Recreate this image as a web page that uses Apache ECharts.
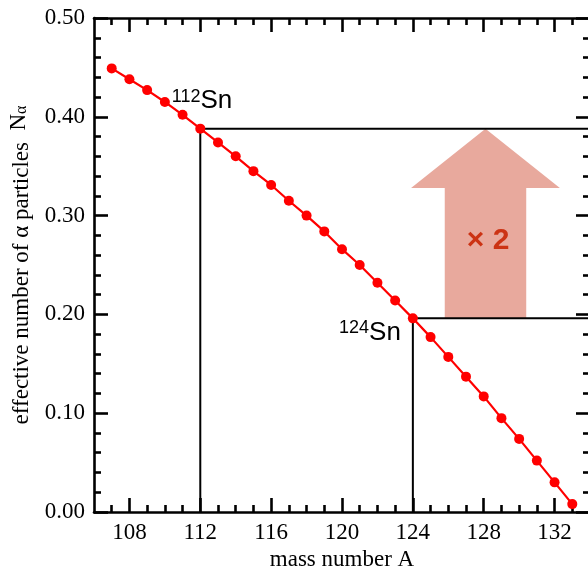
<!DOCTYPE html>
<html>
<head>
<meta charset="utf-8">
<script src="https://cdn.jsdelivr.net/npm/echarts@6/dist/echarts.min.js"></script>
<style>
  html, body { margin: 0; padding: 0; background: #fff; }
  #chart { width: 588px; height: 569px; }
</style>
</head>
<body>
<div id="chart"></div>
<script>
// Effective number of alpha particles vs. tin mass number
const massNumbers = [107, 108, 109, 110, 111, 112, 113, 114, 115, 116, 117, 118, 119, 120,
                     121, 122, 123, 124, 125, 126, 127, 128, 129, 130, 131, 132, 133];
const alphaCounts = [0.449, 0.438, 0.427, 0.415, 0.402, 0.388, 0.374, 0.360, 0.345, 0.331,
                     0.315, 0.300, 0.284, 0.266, 0.250, 0.232, 0.214, 0.196, 0.177, 0.157,
                     0.137, 0.117, 0.095, 0.074, 0.052, 0.030, 0.008];

// Highlighted isotopes
const isotopes = [112, 124];

// Axis ticks
const xMajorTicks = [108, 112, 116, 120, 124, 128, 132];
const xMinorTicks = [107, 109, 110, 111, 113, 114, 115, 117, 118, 119, 121, 122, 123,
                     125, 126, 127, 129, 130, 131, 133];
const yTickLabels = ['0.00', '0.10', '0.20', '0.30', '0.40', '0.50'];

// Ratio arrow between the two isotopes
const ratioText = '× 2';

const xMin = 106, xMax = 134;
const serif = '"Liberation Serif", "Times New Roman", serif';
const sans = '"Liberation Sans", Arial, Helvetica, sans-serif';
const frameWidth = 2.6;

const valueOf = a => alphaCounts[massNumbers.indexOf(a)];
const vLight = valueOf(isotopes[0]);
const vHeavy = valueOf(isotopes[1]);

function xAxisDef(position, ticks, len, withLine) {
  return {
    type: 'value', min: xMin, max: xMax, position: position,
    axisLine: { show: withLine, onZero: false, lineStyle: { color: '#000', width: frameWidth } },
    axisTick: { show: true, inside: true, length: len, customValues: ticks,
                lineStyle: { color: '#000', width: frameWidth } },
    axisLabel: withLine && position === 'bottom'
      ? { show: true, customValues: ticks, margin: 9, color: '#000',
          fontFamily: serif, fontSize: 23 }
      : { show: false },
    splitLine: { show: false }
  };
}

function yAxisDef(position, withLabels) {
  return {
    type: 'value', min: 0, max: 0.5, interval: 0.1, position: position,
    axisLine: { show: true, onZero: false, lineStyle: { color: '#000', width: frameWidth } },
    axisTick: { show: true, inside: true, length: 14, lineStyle: { color: '#000', width: frameWidth } },
    minorTick: { show: true, splitNumber: 5, length: 7, lineStyle: { color: '#000', width: frameWidth } },
    axisLabel: withLabels
      ? { show: true, margin: 9, color: '#000', fontFamily: serif, fontSize: 23,
          formatter: v => yTickLabels[Math.round(v * 10)] }
      : { show: false },
    splitLine: { show: false }
  };
}

const bottomMajor = xAxisDef('bottom', xMajorTicks, 14, true);
bottomMajor.name = 'mass number A';
bottomMajor.nameLocation = 'middle';
bottomMajor.nameGap = 26;
bottomMajor.nameTextStyle = { color: '#000', fontFamily: serif, fontSize: 23 };

const leftAxis = yAxisDef('left', true);
leftAxis.name = 'effective number of α particles  {n|N}{sub|α}';
leftAxis.nameLocation = 'middle';
leftAxis.nameRotate = 90;
leftAxis.nameGap = 58;
leftAxis.nameTextStyle = {
  color: '#000', fontFamily: serif, fontSize: 23,
  rich: {
    n: { fontFamily: serif, fontSize: 23, color: '#000', padding: [0, 0, 6, 0] },
    sub: { fontFamily: serif, fontSize: 16, color: '#000' }
  }
};

// Guide lines: up from the mass axis to the curve, then across to the right frame
const guideLines = isotopes.map(a => ({
  type: 'line', xAxisIndex: 0, yAxisIndex: 0, z: 1, silent: true,
  symbol: 'none', lineStyle: { color: '#000', width: 2 },
  data: [[a, 0], [a, valueOf(a)], [xMax, valueOf(a)]]
}));

// Isotope labels, anchored on the curve points
const labelOffsets = [[32, -15, 'bottom'], [-12, 1, 'top']];
const isoLabels = {
  type: 'custom', xAxisIndex: 0, yAxisIndex: 0, z: 5, silent: true,
  data: isotopes.map(a => [a, valueOf(a)]),
  renderItem: function (params, api) {
    const pt = api.coord([api.value(0), api.value(1)]);
    const off = labelOffsets[params.dataIndex];
    return {
      type: 'text', x: pt[0] + off[0], y: pt[1] + off[1],
      style: {
        text: '{sup|' + api.value(0) + '}{sn|Sn}',
        align: 'right', verticalAlign: off[2], fill: '#000',
        rich: {
          sup: { fontFamily: sans, fontSize: 18, fill: '#000', verticalAlign: 'top' },
          sn: { fontFamily: sans, fontSize: 26, fill: '#000' }
        }
      }
    };
  }
};

// Ratio arrow drawn in data coordinates
const arrowSeries = {
  type: 'custom', xAxisIndex: 0, yAxisIndex: 0, z: 0, silent: true,
  data: [[128.1, vLight, vHeavy]],
  renderItem: function (params, api) {
    const cx = api.value(0), top = api.value(1), bottom = api.value(2);
    const headBase = 0.328, headHalf = 4.2, shaftHalf = 2.3;
    const p = (x, y) => api.coord([x, y]);
    const pts = [
      p(cx, top), p(cx + headHalf, headBase), p(cx + shaftHalf, headBase),
      p(cx + shaftHalf, bottom), p(cx - shaftHalf, bottom), p(cx - shaftHalf, headBase),
      p(cx - headHalf, headBase)
    ];
    const mid = p(cx + 0.15, 0.275);
    return {
      type: 'group',
      children: [
        { type: 'polygon', shape: { points: pts }, style: { fill: '#e8a99d' } },
        { type: 'text', x: mid[0], y: mid[1],
          style: { text: ratioText, fill: '#cc3314', font: 'bold 30px ' + sans,
                   align: 'center', verticalAlign: 'middle' } }
      ]
    };
  }
};

const chart = echarts.init(document.getElementById('chart'), null, { renderer: 'canvas' });
chart.setOption({
  animation: false,
  backgroundColor: '#fff',
  grid: { left: 94, top: 18, width: 496, height: 494, containLabel: false, outerBoundsMode: 'none' },
  xAxis: [
    bottomMajor,
    xAxisDef('bottom', xMinorTicks, 7, false),
    xAxisDef('top', xMajorTicks, 14, true),
    xAxisDef('top', xMinorTicks, 7, false)
  ],
  yAxis: [leftAxis, yAxisDef('right', false)],
  series: [
    arrowSeries,
    ...guideLines,
    {
      type: 'line', xAxisIndex: 0, yAxisIndex: 0, z: 3,
      data: massNumbers.map((a, i) => [a, alphaCounts[i]]),
      symbol: 'circle', symbolSize: 10, showSymbol: true,
      lineStyle: { color: '#ff0000', width: 2.2 },
      itemStyle: { color: '#ff0000' }
    },
    isoLabels
  ]
});
</script>
</body>
</html>
